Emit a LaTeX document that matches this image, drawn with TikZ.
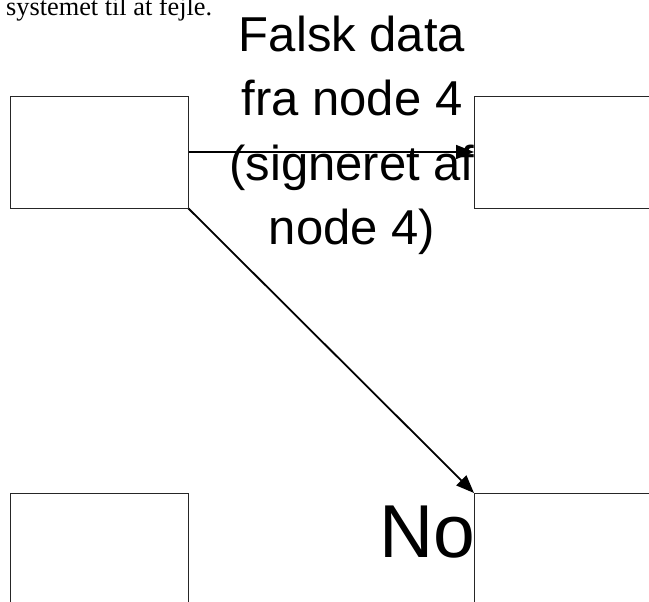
\documentclass[tikz,border=0pt]{standalone}
\usepackage{fontspec}
\setmainfont{Liberation Serif}
\newfontfamily\arialfont{Liberation Sans}
\usetikzlibrary{arrows.meta}

\tikzset{
  nodebox/.style={draw=black!85, line width=0.9pt, fill=white, inner sep=0pt, outer sep=0pt, anchor=north west},
  bigtext/.style={font=\arialfont\fontsize{49}{64}\selectfont, inner sep=0pt, anchor=base},
  hugetext/.style={font=\arialfont\fontsize{75}{90}\selectfont, inner sep=0pt, anchor=base west},
  bodytext/.style={font=\fontsize{26.3}{30}\selectfont, inner sep=0pt, anchor=base west},
  msg/.style={line width=1.8pt, -{Triangle[length=18pt,width=14pt]}, shorten >=0pt}
}

\begin{document}
\begin{tikzpicture}[x=1pt,y=-1pt]
  \useasboundingbox (0,0) rectangle (649,602);
  \clip (0,0) rectangle (649,602);

  % running text of the page above the figure
  \node[bodytext] (caption) at (6,16) {systemet til at fejle.};

  % message label, one node per line
  \node[bigtext] (lbla) at (352,52)  {Falsk data};
  \node[bigtext] (lblb) at (352,116) {fra node 4};
  \node[bigtext] (lblc) at (352,180) {(signeret af};
  \node[bigtext] (lbld) at (352,244) {node 4)};

  % name of the lower right node
  \node[hugetext] (nodename) at (379,557) {Node};

  % coordinates of the box corners used by the messages
  \coordinate (tlE) at (188,152);
  \coordinate (trW) at (474,152);
  \coordinate (tlSE) at (188,208);
  \coordinate (brNW) at (474,493);

  % messages
  \draw[msg] (tlE) -- (trW);
  \draw[msg] (tlSE) -- (brNW);

  % the four nodes
  \node[nodebox, minimum width=178pt, minimum height=112pt] (tl) at (10,96) {};
  \node[nodebox, minimum width=220pt, minimum height=112pt] (tr) at (474,96) {};
  \node[nodebox, minimum width=178pt, minimum height=160pt] (bl) at (10,493) {};
  \node[nodebox, minimum width=220pt, minimum height=160pt] (br) at (474,493) {};
\end{tikzpicture}
\end{document}
